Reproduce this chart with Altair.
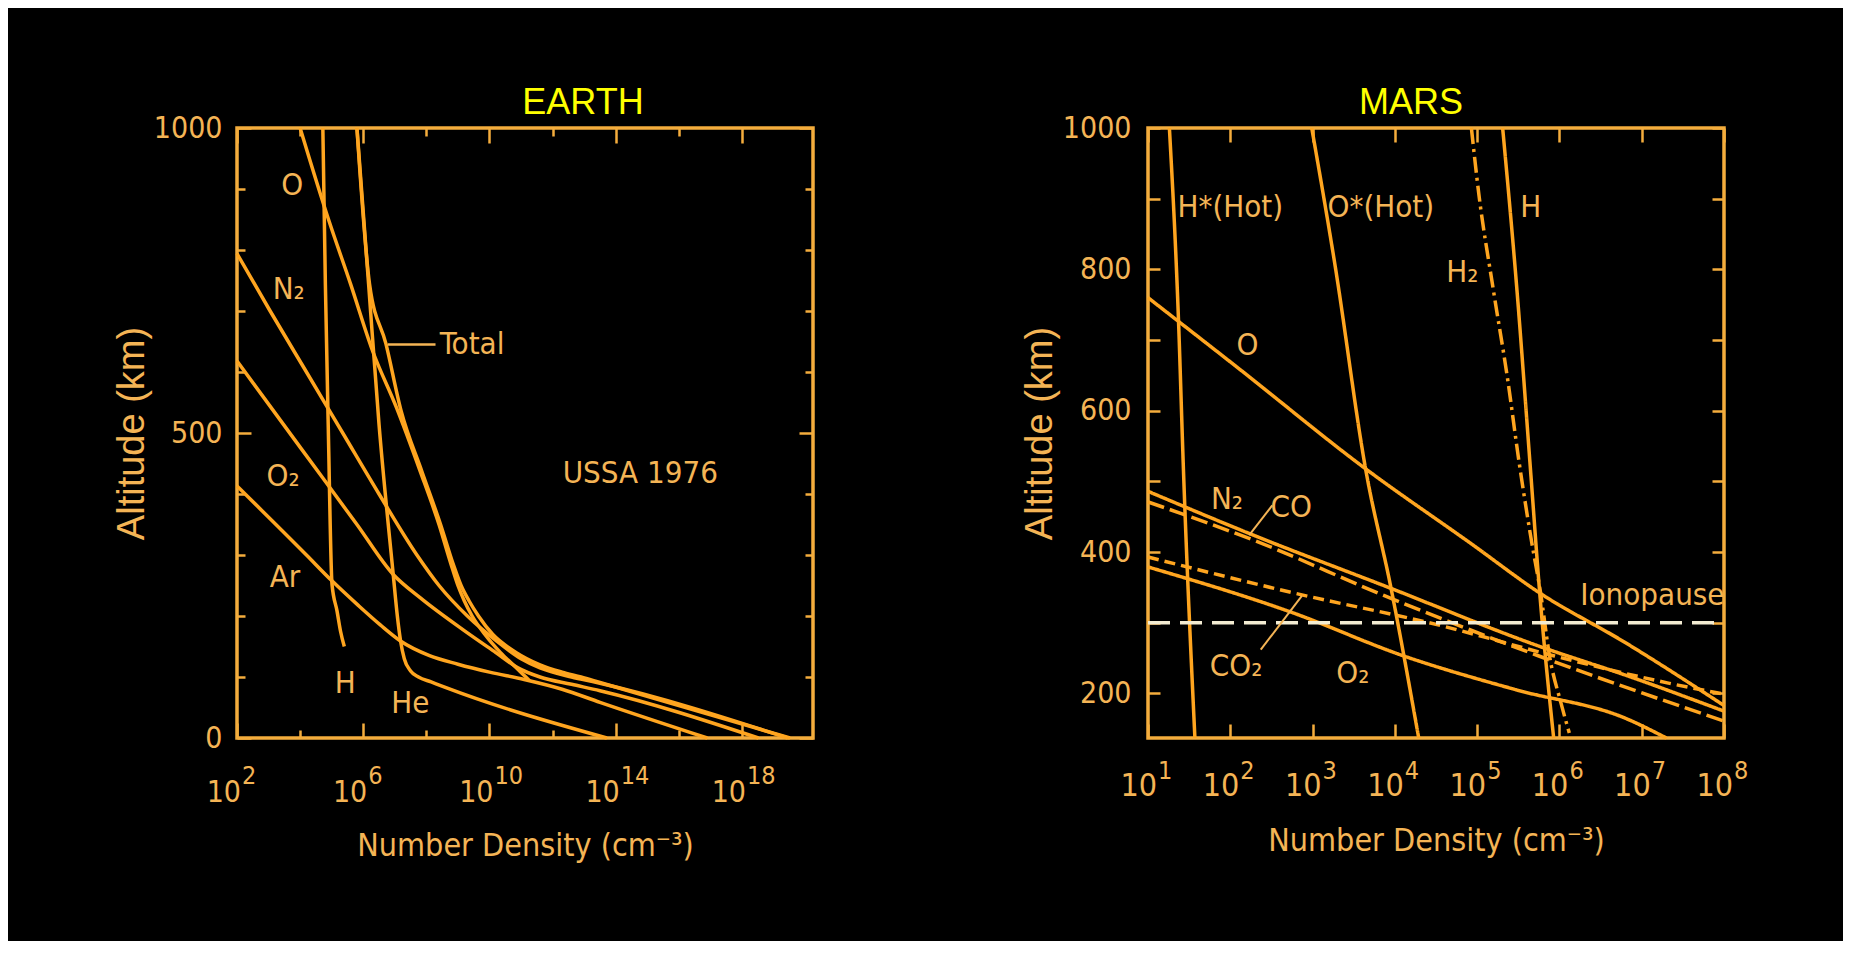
import altair as alt
import pandas as pd

# ---------------- EARTH (altitude km, log10 number density cm^-3) ----------------
E_TOTAL_ALT = [1000, 744, 646, 536, 438, 350, 285, 250, 225, 200, 170, 140, 120, 108, 100, 91, 0]
E_TOTAL_LOGN = [5.8, 6.2, 6.72, 7.2, 7.85, 8.45, 8.85, 9.1, 9.35, 9.65, 10.1, 10.85, 11.6, 12.3, 12.9, 13.5, 19.52]
E_O_ALT = [1000, 850, 744, 634, 542, 438, 350, 285, 250, 225, 200, 170, 140, 120, 105, 94]
E_O_LOGN = [4.0, 4.9, 5.6, 6.3, 7.05, 7.8, 8.4, 8.78, 9.0, 9.2, 9.45, 9.85, 10.35, 10.75, 11.05, 11.27]
E_N2_ALT = [794, 700, 600, 500, 400, 300, 250, 200, 160, 130, 115, 100, 91, 0]
E_N2_LOGN = [2.0, 3.05, 4.2, 5.35, 6.5, 7.7, 8.4, 9.3, 10.2, 11.0, 11.6, 12.6, 13.4, 19.45]
E_O2_ALT = [618, 476, 350, 268, 230, 176, 140, 115, 100, 88, 77.5, 0]
E_O2_LOGN = [2.0, 4.01, 5.8, 6.95, 7.8, 9.2, 10.2, 10.9, 11.6, 12.6, 13.5, 18.52]
E_AR_ALT = [413, 300, 258, 217, 185, 159, 135, 121, 108, 96, 80, 58.5, 0]
E_AR_LOGN = [2.0, 4.2, 5.0, 5.85, 6.55, 7.18, 8.1, 9.0, 10.0, 11.1, 12.3, 13.5, 16.9]
E_HE_ALT = [1000, 744, 514, 268, 200, 160, 130, 110, 100, 92, 83, 0]
E_HE_LOGN = [5.8, 6.17, 6.5, 6.95, 7.08, 7.18, 7.3, 7.5, 7.75, 8.15, 8.6, 13.72]
E_H_ALT = [1000, 744, 514, 252, 208, 175, 150]
E_H_LOGN = [4.72, 4.80, 4.89, 5.01, 5.17, 5.28, 5.4]

E_LABELS = ["O", "N₂", "O₂", "Ar", "H", "He", "Total", "USSA 1976"]
E_LABEL_LOGN = [3.75, 3.64, 3.46, 3.52, 5.43, 7.49, 9.45, 14.78]
E_LABEL_ALT = [905, 735, 428, 263, 88, 56, 645, 432]
E_LEADER_LOGN = [6.78, 8.29]
E_LEADER_ALT = 645

E_X_DOMAIN_LOG = [2, 20.25]
E_Y_DOMAIN = [0, 1000]
E_X_MAJOR_EXP = [2, 6, 10, 14, 18]
E_X_MINOR_EXP = [4, 8, 12, 16]
E_Y_MAJOR = [0, 500, 1000]
E_Y_MINOR = [100, 200, 300, 400, 600, 700, 800, 900]

# ---------------- MARS ----------------
M_HSTAR_ALT = [1000, 730, 519, 137]
M_HSTAR_LOGN = [1.26, 1.37, 1.43, 1.57]
M_OSTAR_ALT = [1000, 808, 514, 351, 137]
M_OSTAR_LOGN = [2.99, 3.27, 3.65, 3.95, 4.29]
M_H_ALT = [1000, 776, 514, 343, 137]
M_H_LOGN = [5.31, 5.48, 5.65, 5.76, 5.93]
M_H2_ALT = [1000, 907, 776, 645, 527, 416, 343, 253, 186, 144]
M_H2_LOGN = [4.93, 5.02, 5.19, 5.37, 5.51, 5.66, 5.77, 5.88, 6.02, 6.12]
M_O_ALT = [760, 660, 520, 410, 343, 272, 183]
M_O_LOGN = [1.0, 2.1, 3.62, 4.95, 5.75, 6.8, 8.0]
M_N2_ALT = [486, 424, 352, 267, 224, 175]
M_N2_LOGN = [1.0, 2.28, 3.88, 5.75, 6.85, 8.0]
M_CO_ALT = [471, 417, 338, 253, 161]
M_CO_LOGN = [1.0, 2.28, 3.88, 5.75, 8.0]
M_CO2_ALT = [393, 343, 296, 253, 215, 199]
M_CO2_LOGN = [1.0, 2.74, 4.56, 5.94, 7.31, 8.0]
M_O2_ALT = [379, 315, 253, 205, 165, 137]
M_O2_LOGN = [1.0, 2.74, 4.11, 5.48, 6.8, 7.3]
M_IONO_ALT = [300, 300]
M_IONO_LOGN = [1.0, 8.0]

M_LABELS = ["H*(Hot)", "O*(Hot)", "H", "H₂", "O", "N₂", "CO", "CO₂", "O₂", "Ionopause"]
M_LABEL_LOGN = [2.0, 3.83, 5.65, 4.82, 2.21, 1.96, 2.74, 2.07, 3.49, 7.13]
M_LABEL_ALT = [887, 887, 887, 795, 691, 474, 462, 238, 227, 338]
M_LEADER_LOGN = [[2.23, 2.51], [2.37, 2.87]]
M_LEADER_ALT = [[424, 466], [262, 338]]

M_X_DOMAIN_LOG = [1, 8]
M_Y_DOMAIN = [137, 1000]
M_X_EXP = [1, 2, 3, 4, 5, 6, 7, 8]
M_Y_TICKS = [200, 300, 400, 500, 600, 700, 800, 900, 1000]

# ---------------- styling ----------------
ORANGE = "#FFA51F"
FRAME = "#F4AD3D"
TEXT = "#F4B455"
IONO = "#F3ECD2"
COND = "DejaVu Sans Condensed, DejaVu Sans, sans-serif"
REG = "Liberation Sans, Arial, sans-serif"
W = 576
HE = 610
HM = 610
LW = 3.5


def series(name, alts, logns, style="solid"):
    return pd.DataFrame({
        "series": name,
        "alt": alts,
        "n": [10 ** v for v in logns],
        "idx": list(range(len(alts))),
        "style": style,
    })


def labels_df(texts, logns, alts):
    return pd.DataFrame({"label": texts, "n": [10 ** v for v in logns], "alt": alts})


def tick_layers(exps, xscale, yscale, ymin, base_size, exp_size, dx_base, dy_base, dy_exp):
    df = pd.DataFrame({"n": [10 ** e for e in exps], "base": "10", "exp": [str(e) for e in exps]})
    base = alt.Chart(df).mark_text(
        font=COND, fontSize=base_size, color=TEXT, align="right", baseline="alphabetic",
        dx=dx_base, dy=dy_base,
    ).encode(
        x=alt.X("n:Q", scale=xscale, axis=None),
        y=alt.YDatum(ymin, type="quantitative", scale=yscale, axis=None),
        text="base:N",
    )
    sup = alt.Chart(df).mark_text(
        font=COND, fontSize=exp_size, color=TEXT, align="left", baseline="alphabetic",
        dx=dx_base + 1, dy=dy_exp,
    ).encode(
        x=alt.X("n:Q", scale=xscale, axis=None),
        y=alt.YDatum(ymin, type="quantitative", scale=yscale, axis=None),
        text="exp:N",
    )
    return [base, sup]


def ax(orient, values, size, title=None, labels=False, **kw):
    args = dict(orient=orient, values=values, tickSize=size, offset=-size, labels=labels,
                domain=False, grid=False, title=title)
    args.update(kw)
    return alt.Axis(**args)


def axis_only(df, xscale, yscale, xaxis, yaxis):
    return alt.Chart(df).mark_point(opacity=0).encode(
        x=alt.X("n:Q", scale=xscale, axis=xaxis),
        y=alt.Y("alt:Q", scale=yscale, axis=yaxis),
    )


# ================= EARTH =================
df_e = pd.concat([
    series("Total", E_TOTAL_ALT, E_TOTAL_LOGN),
    series("O", E_O_ALT, E_O_LOGN),
    series("N2", E_N2_ALT, E_N2_LOGN),
    series("O2", E_O2_ALT, E_O2_LOGN),
    series("Ar", E_AR_ALT, E_AR_LOGN),
    series("He", E_HE_ALT, E_HE_LOGN),
    series("H", E_H_ALT, E_H_LOGN),
], ignore_index=True)

xE = alt.Scale(type="log", domain=[10 ** E_X_DOMAIN_LOG[0], 10 ** E_X_DOMAIN_LOG[1]], nice=False)
yE = alt.Scale(domain=E_Y_DOMAIN, nice=False, zero=False)

e_lines = alt.Chart(df_e).mark_line(color=ORANGE, strokeWidth=LW, interpolate="monotone").encode(
    x=alt.X("n:Q", scale=xE, axis=ax("bottom", [10 ** e for e in E_X_MAJOR_EXP], 15,
                                     title="Number Density (cm⁻³)", titleFont=COND,
                                     titleFontSize=32, titlePadding=91)),
    y=alt.Y("alt:Q", scale=yE, axis=ax("left", E_Y_MAJOR, 14, title="Altitude (km)", labels=True,
                                        format="d", labelPadding=15, labelFontSize=30, titleFont=REG,
                                        titleFontSize=38, titlePadding=2)),
    detail="series:N",
    order="idx:Q",
)

e_ax2 = axis_only(df_e, xE, yE, ax("bottom", [10 ** e for e in E_X_MINOR_EXP], 8), ax("left", E_Y_MINOR, 8))
e_ax3 = axis_only(df_e, xE, yE, ax("top", [10 ** e for e in E_X_MAJOR_EXP], 15), ax("right", E_Y_MAJOR, 14))
e_ax4 = axis_only(df_e, xE, yE, ax("top", [10 ** e for e in E_X_MINOR_EXP], 8), ax("right", E_Y_MINOR, 8))

e_text = alt.Chart(labels_df(E_LABELS, E_LABEL_LOGN, E_LABEL_ALT)).mark_text(
    font=COND, fontSize=31, color=TEXT, align="center", baseline="middle"
).encode(
    x=alt.X("n:Q", scale=xE, axis=None),
    y=alt.Y("alt:Q", scale=yE, axis=None),
    text="label:N",
)
e_leader = alt.Chart(pd.DataFrame({"n": [10 ** E_LEADER_LOGN[0]], "n2": [10 ** E_LEADER_LOGN[1]],
                                   "alt": [E_LEADER_ALT]})).mark_rule(color=TEXT, strokeWidth=2.5).encode(
    x=alt.X("n:Q", scale=xE, axis=None), x2="n2:Q",
    y=alt.Y("alt:Q", scale=yE, axis=None),
)

earth = alt.layer(
    e_lines, e_ax2, e_ax3, e_ax4, e_leader, e_text,
    *tick_layers(E_X_MAJOR_EXP, xE, yE, E_Y_DOMAIN[0], 30, 25, 4, 64, 46),
).resolve_axis(x="independent", y="independent").properties(
    width=W, height=HE,
    title=alt.TitleParams("EARTH", font=REG, fontSize=36, color="#FFFF00", fontWeight="normal",
                          anchor="middle", dx=58, offset=-36.5, frame="group", baseline="alphabetic"),
)

# ================= MARS =================
df_m = pd.concat([
    series("H*", M_HSTAR_ALT, M_HSTAR_LOGN),
    series("O*", M_OSTAR_ALT, M_OSTAR_LOGN),
    series("H", M_H_ALT, M_H_LOGN),
    series("H2", M_H2_ALT, M_H2_LOGN, "dashdot"),
    series("O", M_O_ALT, M_O_LOGN),
    series("N2", M_N2_ALT, M_N2_LOGN),
    series("CO", M_CO_ALT, M_CO_LOGN, "long"),
    series("CO2", M_CO2_ALT, M_CO2_LOGN, "short"),
    series("O2", M_O2_ALT, M_O2_LOGN),
    series("Ionopause", M_IONO_ALT, M_IONO_LOGN, "iono"),
], ignore_index=True)

xM = alt.Scale(type="log", domain=[10 ** M_X_DOMAIN_LOG[0], 10 ** M_X_DOMAIN_LOG[1]], nice=False)
yM = alt.Scale(domain=M_Y_DOMAIN, nice=False, zero=False)

STYLES = ["solid", "long", "short", "dashdot", "iono"]
m_lines = alt.Chart(df_m).mark_line(strokeWidth=LW, interpolate="monotone").encode(
    x=alt.X("n:Q", scale=xM, axis=ax("bottom", [10 ** e for e in M_X_EXP], 14,
                                     title="Number Density (cm⁻³)", titleFont=COND,
                                     titleFontSize=32, titlePadding=86)),
    y=alt.Y("alt:Q", scale=yM, axis=ax("left", M_Y_TICKS, 12, title="Altitude (km)", labels=True,
                                        format="d", labelPadding=17, labelFontSize=30, titleFont=REG,
                                        titleFontSize=38, titlePadding=2.5,
                                        labelExpr="datum.value % 200 == 0 ? datum.label : ''")),
    color=alt.Color("style:N", scale=alt.Scale(domain=STYLES, range=[ORANGE, ORANGE, ORANGE, ORANGE, IONO]),
                    legend=None),
    strokeDash=alt.StrokeDash("style:N", scale=alt.Scale(domain=STYLES,
                                                          range=[[1, 0], [17, 6], [11, 6], [16, 5, 3, 5], [22, 10]]),
                              legend=None),
    detail="series:N",
    order="idx:Q",
)
m_ax2 = axis_only(df_m, xM, yM, ax("top", [10 ** e for e in M_X_EXP], 14), ax("right", M_Y_TICKS, 12))

m_text = alt.Chart(labels_df(M_LABELS, M_LABEL_LOGN, M_LABEL_ALT)).mark_text(
    font=COND, fontSize=31, color=TEXT, align="center", baseline="middle"
).encode(
    x=alt.X("n:Q", scale=xM, axis=None),
    y=alt.Y("alt:Q", scale=yM, axis=None),
    text="label:N",
)
m_leader = alt.Chart(pd.DataFrame({
    "n": [10 ** p[0] for p in M_LEADER_LOGN], "n2": [10 ** p[1] for p in M_LEADER_LOGN],
    "alt": [p[0] for p in M_LEADER_ALT], "alt2": [p[1] for p in M_LEADER_ALT],
})).mark_rule(color=TEXT, strokeWidth=2).encode(
    x=alt.X("n:Q", scale=xM, axis=None), x2="n2:Q",
    y=alt.Y("alt:Q", scale=yM, axis=None), y2="alt2:Q",
)

mars = alt.layer(
    m_lines, m_ax2, m_leader, m_text,
    *tick_layers(M_X_EXP, xM, yM, M_Y_DOMAIN[0], 32, 25, 9, 58, 41),
).resolve_axis(x="independent", y="independent").properties(
    width=W, height=HM,
    title=alt.TitleParams("MARS", font=REG, fontSize=36, color="#FFFF00", fontWeight="normal",
                          anchor="middle", dx=-25, offset=-36.5, frame="group", baseline="alphabetic"),
)

chart = alt.concat(earth, mars, columns=2, spacing=204).properties(
    background="#000000",
    padding={"left": 103, "top": 74, "right": 92, "bottom": 78},
).configure_view(
    stroke=FRAME, strokeWidth=3.5, fill="#000000",
).configure_axis(
    tickColor=FRAME, tickWidth=2.5, labelFont=COND, labelColor=TEXT, titleColor=TEXT,
    titleFontWeight="normal", labelFontWeight="normal",
)

chart.save("out.html", embed_options={"renderer": "svg", "actions": False})
